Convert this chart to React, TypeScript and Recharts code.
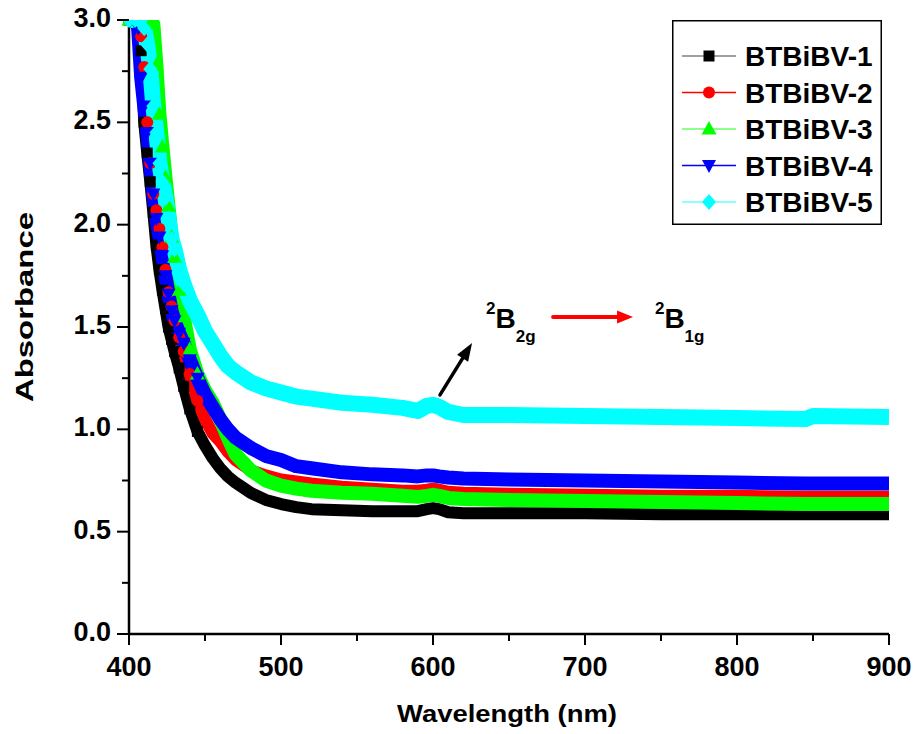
import React from 'react';
import {
  Label,
  Legend,
  Line,
  LineChart,
  ReferenceDot,
  ReferenceLine,
  XAxis,
  YAxis,
} from 'recharts';

// wavelength grid (nm) the curves were read at
const wavelengths = [
  400, 404, 406, 408, 410, 412, 414, 416, 418, 420, 422, 424, 426, 428, 430, 433, 436, 440, 445,
  450, 455, 460, 465, 470, 480, 490, 500, 510, 520, 540, 560, 580, 590, 596, 600, 604, 610, 620,
  650, 700, 750, 800, 845, 850, 900,
];

const btbibv1 = [
  3.0, 3.0, 3.0, 2.85, 2.5, 2.35, 2.21, 2.06, 1.9, 1.78, 1.68, 1.59, 1.5, 1.44, 1.38, 1.3, 1.21,
  1.1, 0.99, 0.92, 0.86, 0.81, 0.77, 0.74, 0.69, 0.655, 0.635, 0.62, 0.61, 0.605, 0.6, 0.6, 0.6,
  0.61, 0.615, 0.61, 0.595, 0.59, 0.59, 0.59, 0.585, 0.585, 0.585, 0.585, 0.585,
];
const btbibv2 = [
  3.0, 3.0, 3.0, 2.92, 2.77, 2.5, 2.3, 2.15, 2.07, 1.98, 1.89, 1.78, 1.67, 1.6, 1.53, 1.45, 1.38,
  1.27, 1.14, 1.05, 0.98, 0.94, 0.89, 0.85, 0.8, 0.775, 0.755, 0.745, 0.735, 0.72, 0.71, 0.7, 0.7,
  0.705, 0.71, 0.705, 0.695, 0.69, 0.685, 0.68, 0.675, 0.675, 0.67, 0.67, 0.67,
];
const btbibv3 = [
  3.0, 3.0, 3.0, 3.0, 3.0, 3.0, 3.0, 2.98, 2.78, 2.54, 2.38, 2.23, 2.09, 1.94, 1.84, 1.68, 1.55,
  1.39, 1.27, 1.19, 1.13, 1.05, 0.96, 0.88, 0.8, 0.75, 0.725, 0.71, 0.7, 0.69, 0.685, 0.675, 0.67,
  0.675, 0.68, 0.675, 0.665, 0.66, 0.655, 0.65, 0.645, 0.64, 0.635, 0.635, 0.635,
];
const btbibv4 = [
  3.0, 3.0, 2.96, 2.72, 2.58, 2.45, 2.3, 2.15, 2.03, 1.94, 1.85, 1.75, 1.66, 1.58, 1.53, 1.47, 1.42,
  1.34, 1.25, 1.17, 1.11, 1.05, 1.0, 0.96, 0.91, 0.87, 0.85, 0.82, 0.81, 0.79, 0.78, 0.775, 0.77,
  0.775, 0.775, 0.77, 0.765, 0.76, 0.755, 0.75, 0.745, 0.74, 0.735, 0.735, 0.735,
];
const btbibv5 = [
  3.0, 3.0, 3.0, 3.0, 2.96, 2.88, 2.76, 2.58, 2.45, 2.3, 2.21, 2.13, 2.03, 1.93, 1.88, 1.78, 1.71,
  1.63, 1.56, 1.48, 1.42, 1.36, 1.31, 1.28, 1.23, 1.2, 1.18, 1.16, 1.15, 1.13, 1.12, 1.105, 1.09,
  1.115, 1.12, 1.11, 1.085, 1.07, 1.07, 1.065, 1.06, 1.055, 1.05, 1.065, 1.06,
];

const xTicks = [400, 450, 500, 550, 600, 650, 700, 750, 800, 850, 900];
const yTicks = [0, 0.25, 0.5, 0.75, 1, 1.25, 1.5, 1.75, 2, 2.25, 2.5, 2.75, 3];

// individual markers only show on the steep edge; beyond it they merge into a band
const MARKER_LIMIT = 445;

const FONT = "'Liberation Sans', Arial, Helvetica, sans-serif";

type Shape = 'square' | 'circle' | 'up' | 'down' | 'diamond';

const SERIES: { key: string; name: string; color: string; legendLine: string; shape: Shape; band: number }[] = [
  { key: 's1', name: 'BTBiBV-1', color: '#000000', legendLine: '#808080', shape: 'square', band: 12 },
  { key: 's2', name: 'BTBiBV-2', color: '#ff0000', legendLine: '#ff0000', shape: 'circle', band: 12 },
  { key: 's3', name: 'BTBiBV-3', color: '#00ff00', legendLine: '#66ff66', shape: 'up', band: 14 },
  { key: 's4', name: 'BTBiBV-4', color: '#0000ff', legendLine: '#0000ff', shape: 'down', band: 14 },
  { key: 's5', name: 'BTBiBV-5', color: '#00ffff', legendLine: '#66ffff', shape: 'diamond', band: 16 },
];

const data = wavelengths.map((w, i) => ({
  w,
  s1: btbibv1[i],
  s2: btbibv2[i],
  s3: btbibv3[i],
  s4: btbibv4[i],
  s5: btbibv5[i],
}));

function Marker({ shape, color, cx, cy }: { shape: Shape; color: string; cx: number; cy: number }) {
  switch (shape) {
    case 'square':
      return <rect x={cx - 5.5} y={cy - 5.5} width={11} height={11} fill={color} />;
    case 'circle':
      return <circle cx={cx} cy={cy} r={6} fill={color} />;
    case 'up':
      return <polygon points={`${cx},${cy - 8} ${cx - 7.5},${cy + 5.5} ${cx + 7.5},${cy + 5.5}`} fill={color} />;
    case 'down':
      return <polygon points={`${cx - 7},${cy - 5.5} ${cx + 7},${cy - 5.5} ${cx},${cy + 7.5}`} fill={color} />;
    default:
      return <polygon points={`${cx},${cy - 8} ${cx + 7},${cy} ${cx},${cy + 8} ${cx - 7},${cy}`} fill={color} />;
  }
}

function XTick(props: any) {
  const { x, y, payload } = props;
  const v = payload.value;
  const major = v % 100 === 0;
  return (
    <g>
      <line x1={x} x2={x} y1={y} y2={y + (major ? 11 : 7)} stroke="#000" strokeWidth={2} />
      {major && (
        <text x={x} y={y + 42} textAnchor="middle" fontFamily={FONT} fontWeight="bold" fontSize={27} fill="#000">
          {v}
        </text>
      )}
    </g>
  );
}

function YTick(props: any) {
  const { x, y, payload } = props;
  const v = payload.value;
  const major = Math.abs(v * 2 - Math.round(v * 2)) < 1e-6;
  return (
    <g>
      <line x1={x} x2={x - (major ? 12 : 7)} y1={y} y2={y} stroke="#000" strokeWidth={2} />
      {major && (
        <text x={x - 18} y={y + 7} textAnchor="end" fontFamily={FONT} fontWeight="bold" fontSize={27} fill="#000">
          {v.toFixed(1)}
        </text>
      )}
    </g>
  );
}

function XTitle(props: any) {
  const vb = props.viewBox || { x: 129, y: 634, width: 760, height: 100 };
  return (
    <text
      x={vb.x + vb.width / 2 - 2}
      y={vb.y + 88}
      textAnchor="middle"
      fontFamily={FONT}
      fontWeight="bold"
      fontSize={24}
      textLength={220}
      lengthAdjust="spacingAndGlyphs"
      fill="#000"
    >
      Wavelength (nm)
    </text>
  );
}

function YTitle() {
  return (
    <text
      x={33}
      y={307}
      transform="rotate(-90 33 307)"
      textAnchor="middle"
      fontFamily={FONT}
      fontWeight="bold"
      fontSize={23}
      textLength={190}
      lengthAdjust="spacingAndGlyphs"
      fill="#000"
    >
      Absorbance
    </text>
  );
}

function arrowShape(color: string, width: number, head: number, headWidth: number) {
  return (props: any) => {
    let { x1, y1, x2, y2 } = props;
    if (x1 === undefined && props.points) {
      x1 = props.points[0].x;
      y1 = props.points[0].y;
      x2 = props.points[1].x;
      y2 = props.points[1].y;
    }
    const dx = x2 - x1;
    const dy = y2 - y1;
    const len = Math.hypot(dx, dy) || 1;
    const ux = dx / len;
    const uy = dy / len;
    const bx = x2 - ux * head;
    const by = y2 - uy * head;
    const hw = headWidth / 2;
    return (
      <g>
        <line x1={x1} y1={y1} x2={bx + ux * 2} y2={by + uy * 2} stroke={color} strokeWidth={width} strokeLinecap="round" />
        <polygon points={`${x2},${y2} ${bx - uy * hw},${by + ux * hw} ${bx + uy * hw},${by - ux * hw}`} fill={color} />
      </g>
    );
  };
}

function termLabel(sub: string) {
  return (props: any) => {
    const { cx, cy } = props;
    return (
      <text x={cx} y={cy} fontFamily={FONT} fontWeight="bold" fill="#000">
        <tspan fontSize={17} dy={-14}>2</tspan>
        <tspan fontSize={28} dy={14}>B</tspan>
        <tspan fontSize={17} dy={14}>{sub}</tspan>
      </text>
    );
  };
}

function LegendBox() {
  return (
    <svg width={210} height={205} style={{ display: 'block' }}>
      <rect x={0.75} y={0.75} width={208.5} height={203.5} fill="#fff" stroke="#000" strokeWidth={1.5} />
      {SERIES.map((s, i) => {
        const cy = 36 + i * 36.5;
        return (
          <g key={s.key}>
            <line x1={10} x2={64} y1={cy} y2={cy} stroke={s.legendLine} strokeWidth={1.5} />
            <Marker shape={s.shape} color={s.color} cx={37} cy={cy} />
            <text x={73} y={cy + 10} fontFamily={FONT} fontWeight="bold" fontSize={28} fill="#000">
              {s.name}
            </text>
          </g>
        );
      })}
    </svg>
  );
}

export default function App() {
  return (
    <div style={{ position: 'absolute', left: 0, top: 0, width: 917, height: 734, background: '#fff' }}>
      <LineChart width={917} height={734} data={data} margin={{ top: 20, right: 28, bottom: 0, left: 0 }}>
        <XAxis
          dataKey="w"
          type="number"
          domain={[400, 900]}
          ticks={xTicks}
          interval={0}
          height={100}
          tickSize={0}
          tickMargin={0}
          tickLine={false}
          tick={<XTick />}
          axisLine={{ stroke: '#000', strokeWidth: 2.5 }}
        >
          <Label content={<XTitle />} />
        </XAxis>
        <XAxis
          xAxisId="top"
          orientation="top"
          type="number"
          domain={[400, 900]}
          height={0}
          tick={false}
          tickLine={false}
          axisLine={{ stroke: '#222', strokeWidth: 1.5 }}
        />
        <YAxis
          type="number"
          domain={[0, 3]}
          ticks={yTicks}
          interval={0}
          width={129}
          tickSize={0}
          tickMargin={0}
          tickLine={false}
          tick={<YTick />}
          allowDataOverflow
          axisLine={{ stroke: '#000', strokeWidth: 2.5 }}
        >
          <Label content={<YTitle />} />
        </YAxis>
        <YAxis
          yAxisId="right"
          orientation="right"
          type="number"
          domain={[0, 3]}
          width={0}
          tick={false}
          tickLine={false}
          axisLine={{ stroke: '#222', strokeWidth: 1.5 }}
        />

        {SERIES.map((s) => (
          <Line
            key={s.key}
            type="linear"
            dataKey={s.key}
            name={s.name}
            stroke={s.color}
            strokeWidth={s.band}
            strokeLinejoin="round"
            isAnimationActive={false}
            dot={(p: any) =>
              p.cy == null || !p.payload || p.payload.w > MARKER_LIMIT ? (
                <g key={`${s.key}-${p.index}`} />
              ) : (
                <Marker key={`${s.key}-${p.index}`} shape={s.shape} color={s.color} cx={p.cx} cy={p.cy} />
              )
            }
            activeDot={false}
          />
        ))}

        <ReferenceLine
          segment={[
            { x: 604.6, y: 1.168 },
            { x: 625.7, y: 1.422 },
          ]}
          shape={arrowShape('#000', 3.5, 18, 13)}
        />
        <ReferenceLine
          segment={[
            { x: 679, y: 1.549 },
            { x: 731.6, y: 1.549 },
          ]}
          shape={arrowShape('#ff0000', 4, 16, 13)}
        />
        <ReferenceDot x={634.9} y={1.495} r={1} shape={termLabel('2g')} />
        <ReferenceDot x={746} y={1.495} r={1} shape={termLabel('1g')} />

        <Legend
          layout="vertical"
          align="center"
          verticalAlign="middle"
          wrapperStyle={{ left: 672, top: 20, width: 210, height: 205 }}
          content={() => <LegendBox />}
        />
      </LineChart>
    </div>
  );
}
